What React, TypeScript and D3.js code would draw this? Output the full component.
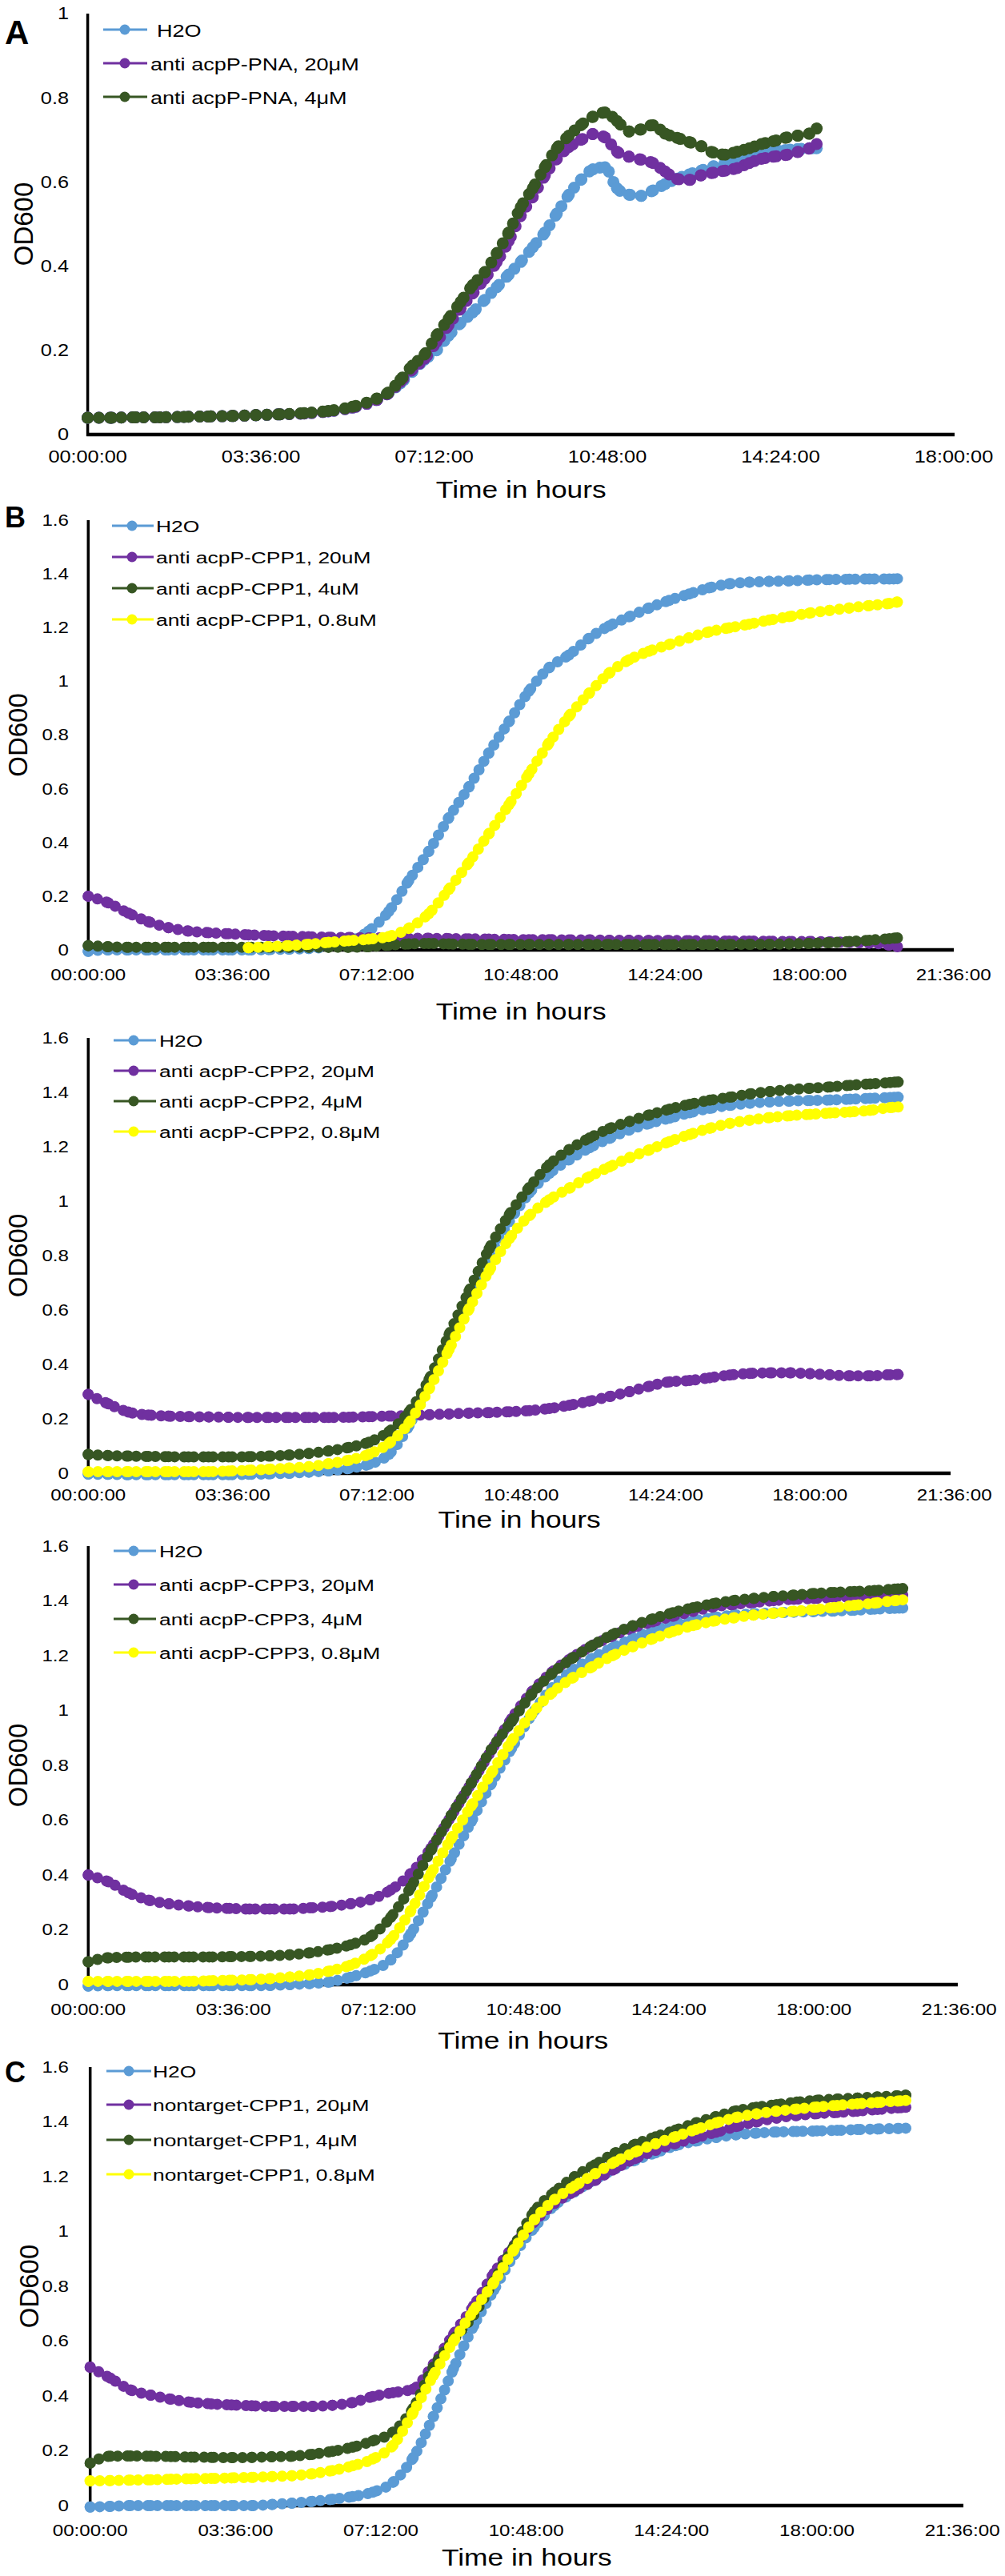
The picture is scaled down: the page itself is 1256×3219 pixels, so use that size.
import React from 'react';
import * as d3 from 'd3';

const FONT = '"Liberation Sans", Arial, Helvetica, sans-serif';
const C_H2O = '#5B9BD5';
const C_20 = '#7030A0';
const C_4 = '#375623';
const C_08 = '#FFFF00';

// ---------- Panel A (anti acpP-PNA) ----------
const timeA = [0, 0.5, 1, 1.5, 2, 2.5, 3, 3.5, 4, 4.5, 5, 5.5, 6,
  6.25, 6.5, 6.75, 7, 7.25, 7.5, 7.75, 8, 8.25, 8.5, 8.75, 9, 9.25, 9.5, 9.75, 10,
  10.25, 10.5, 10.75, 11, 11.25, 11.5, 11.75, 12, 12.25, 12.5, 12.75, 13, 13.25, 13.5,
  13.75, 14, 14.25, 14.5, 14.75, 15, 15.15];
const aH2O = [0.040, 0.040, 0.041, 0.041, 0.042, 0.043, 0.044, 0.046, 0.048, 0.050, 0.055, 0.064, 0.082,
  0.098, 0.122, 0.15, 0.178, 0.20, 0.235, 0.265, 0.29, 0.32, 0.35, 0.38, 0.41, 0.445, 0.48, 0.525, 0.57,
  0.605, 0.63, 0.635, 0.585, 0.57, 0.567, 0.58, 0.595, 0.608, 0.618, 0.627, 0.637, 0.645, 0.655,
  0.662, 0.668, 0.672, 0.676, 0.678, 0.68, 0.68];
const aPNA20 = [0.040, 0.040, 0.041, 0.041, 0.042, 0.043, 0.044, 0.046, 0.048, 0.050, 0.055, 0.064, 0.082,
  0.098, 0.125, 0.155, 0.18, 0.22, 0.26, 0.30, 0.335, 0.37, 0.41, 0.46, 0.52, 0.565, 0.615, 0.655, 0.683,
  0.70, 0.714, 0.706, 0.672, 0.66, 0.653, 0.645, 0.625, 0.607, 0.605, 0.616, 0.622, 0.627, 0.633,
  0.645, 0.655, 0.66, 0.664, 0.671, 0.68, 0.69];
const aPNA4 = [0.040, 0.040, 0.041, 0.041, 0.042, 0.043, 0.044, 0.046, 0.048, 0.051, 0.056, 0.066, 0.085,
  0.10, 0.13, 0.164, 0.19, 0.235, 0.275, 0.315, 0.355, 0.385, 0.43, 0.48, 0.54, 0.585, 0.635, 0.68, 0.71,
  0.735, 0.755, 0.765, 0.745, 0.72, 0.725, 0.735, 0.715, 0.705, 0.695, 0.685, 0.67, 0.665, 0.672,
  0.68, 0.69, 0.697, 0.705, 0.71, 0.715, 0.727];

// ---------- Shared time grid for panels B..C (hours) ----------
const timeBC = [0, 0.5, 1, 1.5, 2, 2.5, 3, 3.5, 4, 4.5, 5, 5.5, 6, 6.5, 7, 7.5, 8, 8.5, 9, 9.5,
  10, 10.5, 11, 11.5, 12, 12.5, 13, 13.5, 14, 14.5, 15, 15.5, 16, 16.5, 17, 17.5, 18, 18.5, 19, 19.5, 20, 20.2];

// Panel B (anti acpP-CPP1)
const bH2O = [-0.005, 0, 0, 0, 0, 0, 0, 0, 0, 0.001, 0.003, 0.005, 0.012, 0.03, 0.07, 0.143, 0.258, 0.367, 0.492, 0.606,
  0.733, 0.849, 0.963, 1.05, 1.098, 1.16, 1.206, 1.24, 1.273, 1.301, 1.325, 1.348, 1.363, 1.369, 1.372, 1.374, 1.377, 1.379, 1.38, 1.381, 1.381, 1.382];
const bCPP1_20 = [0.20, 0.175, 0.137, 0.105, 0.083, 0.07, 0.064, 0.06, 0.056, 0.053, 0.051, 0.049, 0.047, 0.046, 0.045, 0.044, 0.043, 0.043, 0.042, 0.041,
  0.04, 0.039, 0.038, 0.038, 0.037, 0.037, 0.036, 0.036, 0.035, 0.035, 0.034, 0.034, 0.033, 0.033, 0.032, 0.031, 0.031, 0.03, 0.028, 0.025, 0.018, 0.012];
const bCPP1_4 = [0.016, 0.012, 0.01, 0.01, 0.01, 0.01, 0.01, 0.01, 0.01, 0.01, 0.01, 0.01, 0.01, 0.01, 0.012, 0.018, 0.022, 0.024, 0.022, 0.021,
  0.02, 0.02, 0.02, 0.02, 0.02, 0.02, 0.02, 0.02, 0.02, 0.02, 0.02, 0.02, 0.02, 0.021, 0.021, 0.022, 0.024, 0.027, 0.031, 0.036, 0.042, 0.045];
const bCPP1_08 = [null, null, null, null, null, null, null, null, 0.008, 0.012, 0.016, 0.021, 0.028, 0.034, 0.04, 0.05, 0.08, 0.135, 0.225, 0.325,
  0.432, 0.54, 0.655, 0.77, 0.87, 0.955, 1.03, 1.08, 1.112, 1.137, 1.162, 1.184, 1.199, 1.213, 1.228, 1.241, 1.254, 1.264, 1.273, 1.282, 1.29, 1.295];

// Panel B2 (anti acpP-CPP2)
const cpp2H2O = [-0.003, -0.004, -0.005, -0.005, -0.005, -0.005, -0.005, -0.005, -0.004, -0.002, 0, 0.004, 0.009, 0.018, 0.033, 0.07, 0.175, 0.335, 0.49, 0.645,
  0.8, 0.925, 1.03, 1.102, 1.153, 1.196, 1.231, 1.262, 1.286, 1.305, 1.325, 1.341, 1.352, 1.36, 1.365, 1.368, 1.37, 1.372, 1.375, 1.378, 1.381, 1.382];
const cpp2_20 = [0.29, 0.255, 0.225, 0.214, 0.21, 0.208, 0.207, 0.206, 0.205, 0.205, 0.205, 0.205, 0.205, 0.206, 0.208, 0.21, 0.212, 0.215, 0.218, 0.221,
  0.223, 0.226, 0.23, 0.238, 0.25, 0.265, 0.282, 0.3, 0.32, 0.336, 0.341, 0.351, 0.361, 0.367, 0.369, 0.369, 0.366, 0.362, 0.358, 0.358, 0.362, 0.363];
const cpp2_4 = [0.069, 0.065, 0.063, 0.062, 0.061, 0.06, 0.06, 0.06, 0.061, 0.063, 0.067, 0.073, 0.082, 0.095, 0.114, 0.153, 0.225, 0.345, 0.51, 0.67,
  0.825, 0.95, 1.05, 1.134, 1.19, 1.232, 1.267, 1.293, 1.317, 1.338, 1.356, 1.371, 1.382, 1.394, 1.403, 1.41, 1.415, 1.42, 1.426, 1.431, 1.436, 1.438];
const cpp2_08 = [0.005, 0.006, 0.006, 0.006, 0.006, 0.006, 0.006, 0.008, 0.011, 0.015, 0.019, 0.024, 0.035, 0.048, 0.07, 0.11, 0.185, 0.31, 0.455, 0.605,
  0.745, 0.862, 0.947, 1.005, 1.048, 1.09, 1.126, 1.16, 1.189, 1.219, 1.245, 1.268, 1.286, 1.298, 1.307, 1.314, 1.319, 1.324, 1.328, 1.334, 1.344, 1.346];

// Panel B3 (anti acpP-CPP3)
const cpp3H2O = [-0.005, -0.004, -0.004, -0.004, -0.004, -0.004, -0.004, -0.004, -0.004, -0.003, 0, 0.004, 0.01, 0.027, 0.05, 0.09, 0.186, 0.318, 0.458, 0.595,
  0.735, 0.862, 0.985, 1.082, 1.145, 1.19, 1.229, 1.263, 1.292, 1.312, 1.327, 1.339, 1.348, 1.353, 1.356, 1.359, 1.361, 1.363, 1.366, 1.37, 1.373, 1.374];
const cpp3_20 = [0.40, 0.375, 0.335, 0.308, 0.295, 0.287, 0.281, 0.278, 0.276, 0.276, 0.276, 0.28, 0.285, 0.295, 0.31, 0.345, 0.405, 0.498, 0.615, 0.735,
  0.855, 0.97, 1.068, 1.14, 1.193, 1.237, 1.272, 1.302, 1.324, 1.344, 1.362, 1.378, 1.387, 1.394, 1.401, 1.406, 1.409, 1.412, 1.416, 1.418, 1.421, 1.422];
const cpp3_4 = [0.083, 0.098, 0.1, 0.101, 0.101, 0.101, 0.101, 0.102, 0.103, 0.105, 0.109, 0.116, 0.128, 0.145, 0.175, 0.245, 0.355, 0.49, 0.617, 0.735,
  0.858, 0.96, 1.06, 1.135, 1.19, 1.237, 1.277, 1.309, 1.334, 1.357, 1.375, 1.39, 1.401, 1.409, 1.416, 1.421, 1.427, 1.431, 1.434, 1.438, 1.443, 1.445];
const cpp3_08 = [0.012, 0.012, 0.012, 0.012, 0.012, 0.012, 0.014, 0.016, 0.018, 0.022, 0.028, 0.036, 0.05, 0.071, 0.106, 0.165, 0.27, 0.405, 0.532, 0.652,
  0.772, 0.888, 0.988, 1.065, 1.118, 1.16, 1.2, 1.233, 1.262, 1.288, 1.31, 1.326, 1.338, 1.348, 1.355, 1.362, 1.368, 1.376, 1.384, 1.392, 1.401, 1.404];

// Panel C (nontarget-CPP1)
const cH2O = [-0.005, -0.003, 0, 0, 0, 0, 0, 0, 0, 0.004, 0.009, 0.015, 0.023, 0.033, 0.049, 0.085, 0.175, 0.325, 0.5, 0.657,
  0.787, 0.915, 1.015, 1.095, 1.145, 1.19, 1.229, 1.26, 1.287, 1.313, 1.33, 1.343, 1.353, 1.359, 1.363, 1.365, 1.367, 1.369, 1.372, 1.374, 1.376, 1.377];
const cNT20 = [0.505, 0.465, 0.422, 0.403, 0.388, 0.377, 0.371, 0.367, 0.364, 0.362, 0.362, 0.362, 0.366, 0.376, 0.398, 0.412, 0.425, 0.515, 0.625, 0.729,
  0.847, 0.949, 1.036, 1.103, 1.147, 1.186, 1.229, 1.266, 1.296, 1.321, 1.342, 1.362, 1.383, 1.4, 1.414, 1.423, 1.43, 1.434, 1.439, 1.445, 1.451, 1.453];
const cNT4 = [0.155, 0.18, 0.181, 0.18, 0.179, 0.177, 0.176, 0.175, 0.176, 0.178, 0.18, 0.187, 0.198, 0.213, 0.236, 0.268, 0.355, 0.505, 0.605, 0.696,
  0.82, 0.947, 1.073, 1.144, 1.2, 1.243, 1.286, 1.318, 1.345, 1.37, 1.396, 1.419, 1.44, 1.453, 1.463, 1.472, 1.479, 1.483, 1.487, 1.491, 1.495, 1.497];
const cNT08 = [0.09, 0.091, 0.093, 0.094, 0.096, 0.098, 0.099, 0.101, 0.103, 0.106, 0.109, 0.116, 0.128, 0.145, 0.17, 0.22, 0.34, 0.475, 0.6, 0.712,
  0.815, 0.935, 1.043, 1.116, 1.166, 1.21, 1.254, 1.29, 1.32, 1.346, 1.372, 1.396, 1.416, 1.429, 1.439, 1.447, 1.454, 1.46, 1.466, 1.471, 1.476, 1.478];

// ---------- Axis ticks ----------
const xTicksA = [0, 3.6, 7.2, 10.8, 14.4, 18];
const xTickLabelsA = ['00:00:00', '03:36:00', '07:12:00', '10:48:00', '14:24:00', '18:00:00'];
const xTicksBC = [0, 3.6, 7.2, 10.8, 14.4, 18, 21.6];
const xTickLabelsBC = ['00:00:00', '03:36:00', '07:12:00', '10:48:00', '14:24:00', '18:00:00', '21:36:00'];
const yTicksA = [0, 0.2, 0.4, 0.6, 0.8, 1];
const yTickLabelsA = ['0', '0.2', '0.4', '0.6', '0.8', '1'];
const yTicksBC = [0, 0.2, 0.4, 0.6, 0.8, 1, 1.2, 1.4, 1.6];
const yTickLabelsBC = ['0', '0.2', '0.4', '0.6', '0.8', '1', '1.2', '1.4', '1.6'];

const labelsA = ['H2O', 'anti acpP-PNA, 20\u03bcM', 'anti acpP-PNA, 4\u03bcM'];
const labelsB = ['H2O', 'anti acpP-CPP1, 20uM', 'anti acpP-CPP1, 4uM', 'anti acpP-CPP1, 0.8uM'];
const labelsB2 = ['H2O', 'anti acpP-CPP2, 20\u03bcM', 'anti acpP-CPP2, 4\u03bcM', 'anti acpP-CPP2, 0.8\u03bcM'];
const labelsB3 = ['H2O', 'anti acpP-CPP3, 20\u03bcM', 'anti acpP-CPP3, 4\u03bcM', 'anti acpP-CPP3, 0.8\u03bcM'];
const labelsC = ['H2O', 'nontarget-CPP1, 20\u03bcM', 'nontarget-CPP1, 4\u03bcM', 'nontarget-CPP1, 0.8\u03bcM'];

type Series = { label: string; color: string; values: (number | null)[] };

interface Panel {
  times: number[];
  series: Series[];
  xMax: number; yMax: number;
  xTicks: number[]; xTickLabels: string[];
  yTicks: number[]; yTickLabels: string[];
  x0: number; x1: number; yTop: number; yBottom: number; axisEnd: number;
  tickY: number; titleY: number; title: string;
  yLabelX: number; letter?: string; letterY?: number; letterSize?: number;
  legendRows: number[]; legendLine: [number, number]; legendDot: number; legendTextX: number[];
  legendFont: number; legendSx: number; r: number; gap: number; tickFont: number;
}

const mk = (labels: string[], colors: string[], vals: (number | null)[][]): Series[] =>
  labels.map((l, i) => ({ label: l, color: colors[i], values: vals[i] }));

const COLS4 = [C_H2O, C_20, C_4, C_08];

const panels: Panel[] = [
  {
    times: timeA, series: mk(labelsA, [C_H2O, C_20, C_4], [aH2O, aPNA20, aPNA4]),
    xMax: 18, yMax: 1, xTicks: xTicksA, xTickLabels: xTickLabelsA, yTicks: yTicksA, yTickLabels: yTickLabelsA,
    x0: 109.6, x1: 1192, yTop: 17, yBottom: 543, axisEnd: 1193,
    tickY: 571, titleY: 612, title: 'Time in hours', yLabelX: 29, letter: 'A', letterY: 55, letterSize: 42,
    legendRows: [37, 79, 121], legendLine: [129, 184], legendDot: 156, legendTextX: [196, 188, 188],
    legendFont: 22, legendSx: 1.23, r: 7.5, gap: 14, tickFont: 22,
  },
  {
    times: timeBC, series: mk(labelsB, COLS4, [bH2O, bCPP1_20, bCPP1_4, bCPP1_08]),
    xMax: 21.6, yMax: 1.6, xTicks: xTicksBC, xTickLabels: xTickLabelsBC, yTicks: yTicksBC, yTickLabels: yTickLabelsBC,
    x0: 110.3, x1: 1191.6, yTop: 650, yBottom: 1187, axisEnd: 1192,
    tickY: 1218, titleY: 1264, title: 'Time in hours', yLabelX: 22, letter: 'B', letterY: 659, letterSize: 36,
    legendRows: [657, 696, 735, 774], legendLine: [140, 192], legendDot: 165, legendTextX: [195, 195, 195, 195],
    legendFont: 20, legendSx: 1.32, r: 7, gap: 12, tickFont: 21,
  },
  {
    times: timeBC, series: mk(labelsB2, COLS4, [cpp2H2O, cpp2_20, cpp2_4, cpp2_08]),
    xMax: 21.6, yMax: 1.6, xTicks: xTicksBC, xTickLabels: xTickLabelsBC, yTicks: yTicksBC, yTickLabels: yTickLabelsBC,
    x0: 110.3, x1: 1192.6, yTop: 1297, yBottom: 1841, axisEnd: 1188,
    tickY: 1868, titleY: 1899, title: 'Tine in hours', yLabelX: 22,
    legendRows: [1300, 1338, 1376, 1414], legendLine: [142, 195], legendDot: 167, legendTextX: [199, 199, 199, 199],
    legendFont: 20, legendSx: 1.32, r: 7, gap: 12, tickFont: 21,
  },
  {
    times: timeBC, series: mk(labelsB3, COLS4, [cpp3H2O, cpp3_20, cpp3_4, cpp3_08]),
    xMax: 21.6, yMax: 1.6, xTicks: xTicksBC, xTickLabels: xTickLabelsBC, yTicks: yTicksBC, yTickLabels: yTickLabelsBC,
    x0: 110.3, x1: 1198.7, yTop: 1932, yBottom: 2480, axisEnd: 1197,
    tickY: 2511, titleY: 2550, title: 'Time in hours', yLabelX: 22,
    legendRows: [1938, 1980, 2023, 2065], legendLine: [142, 195], legendDot: 167, legendTextX: [199, 199, 199, 199],
    legendFont: 20, legendSx: 1.32, r: 7, gap: 12, tickFont: 21,
  },
  {
    times: timeBC, series: mk(labelsC, COLS4, [cH2O, cNT20, cNT4, cNT08]),
    xMax: 21.6, yMax: 1.6, xTicks: xTicksBC, xTickLabels: xTickLabelsBC, yTicks: yTicksBC, yTickLabels: yTickLabelsBC,
    x0: 112.7, x1: 1202.6, yTop: 2583, yBottom: 3131, axisEnd: 1204,
    tickY: 3162, titleY: 3196, title: 'Time in hours', yLabelX: 36, letter: 'C', letterY: 2602, letterSize: 36,
    legendRows: [2588, 2630, 2674, 2717], legendLine: [133, 189], legendDot: 161, legendTextX: [191, 191, 191, 191],
    legendFont: 20, legendSx: 1.32, r: 7, gap: 12, tickFont: 21,
  },
];

function SText(props: { x: number; y: number; sx?: number; size: number; anchor?: string; weight?: string | number; children: React.ReactNode }) {
  const { x, y, sx = 1, size, anchor = 'start', weight = 'normal', children } = props;
  return (
    <text
      transform={`translate(${x},${y}) scale(${sx},1)`}
      fontSize={size}
      fontFamily={FONT}
      fontWeight={weight}
      textAnchor={anchor}
      dominantBaseline="central"
      fill="#000"
    >
      {children}
    </text>
  );
}

function PanelView({ p }: { p: Panel }) {
  const xs = d3.scaleLinear().domain([0, p.xMax]).range([p.x0, p.x1]);
  const ys = d3.scaleLinear().domain([0, p.yMax]).range([p.yBottom, p.yTop]);
  const line = (vals: (number | null)[]) =>
    d3.line<number>()
      .defined((i) => vals[i] !== null && vals[i] !== undefined)
      .x((i) => xs(p.times[i]))
      .y((i) => ys(vals[i] as number))
      .curve(d3.curveMonotoneX)(d3.range(p.times.length)) || '';

  const tickSx = 1.15;
  const titleX = (p.x0 + p.axisEnd) / 2;
  return (
    <g>
      {/* axes */}
      <line x1={p.x0} x2={p.x0} y1={p.yTop} y2={p.yBottom + 2} stroke="#000" strokeWidth={3.5} />
      <line x1={p.x0 - 1.5} x2={p.axisEnd} y1={p.yBottom} y2={p.yBottom} stroke="#000" strokeWidth={4.5} />
      {p.yTicks.map((v, i) => (
        <SText key={'yt' + i} x={86} y={ys(v)} size={p.tickFont} sx={tickSx} anchor="end">{p.yTickLabels[i]}</SText>
      ))}
      {p.xTicks.map((t, i) => (
        <SText key={'xt' + i} x={xs(t)} y={p.tickY} size={p.tickFont} sx={tickSx} anchor="middle">{p.xTickLabels[i]}</SText>
      ))}
      <SText x={titleX} y={p.titleY} size={29} sx={1.22} anchor="middle">{p.title}</SText>
      <text
        transform={`translate(${p.yLabelX},${(p.yTop + p.yBottom) / 2}) rotate(-90)`}
        fontSize={33}
        fontFamily={FONT}
        textAnchor="middle"
        dominantBaseline="central"
        fill="#000"
      >OD600</text>
      {p.letter && (
        <text x={6} y={p.letterY} fontSize={p.letterSize} fontWeight="bold" fontFamily={FONT} fill="#000">{p.letter}</text>
      )}
      {/* series */}
      {p.series.map((s, si) => {
        const d = line(s.values);
        return (
          <g key={'s' + si}>
            <path d={d} fill="none" stroke={s.color} strokeWidth={3.5} />
            <path d={d} fill="none" stroke={s.color} strokeWidth={p.r * 2} strokeLinecap="round"
              strokeDasharray={`0 ${p.gap}`} />
            {s.values.map((v, i) => (v === null ? null : (
              <circle key={i} cx={xs(p.times[i])} cy={ys(v)} r={p.r} fill={s.color} />
            )))}
          </g>
        );
      })}
      {/* legend */}
      {p.series.map((s, si) => (
        <g key={'lg' + si}>
          <line x1={p.legendLine[0]} x2={p.legendLine[1]} y1={p.legendRows[si]} y2={p.legendRows[si]} stroke={s.color} strokeWidth={3} />
          <circle cx={p.legendDot} cy={p.legendRows[si]} r={6.5} fill={s.color} />
          <SText x={p.legendTextX[si]} y={p.legendRows[si] + 1} size={p.legendFont} sx={p.legendSx}>{s.label}</SText>
        </g>
      ))}
    </g>
  );
}

export default function App() {
  return (
    <svg
      width={1256}
      height={3219}
      viewBox="0 0 1256 3219"
      style={{ position: 'absolute', left: 0, top: 0, display: 'block', background: '#fff' }}
    >
      <rect x={0} y={0} width={1256} height={3219} fill="#fff" />
      {panels.map((p, i) => <PanelView key={i} p={p} />)}
    </svg>
  );
}
